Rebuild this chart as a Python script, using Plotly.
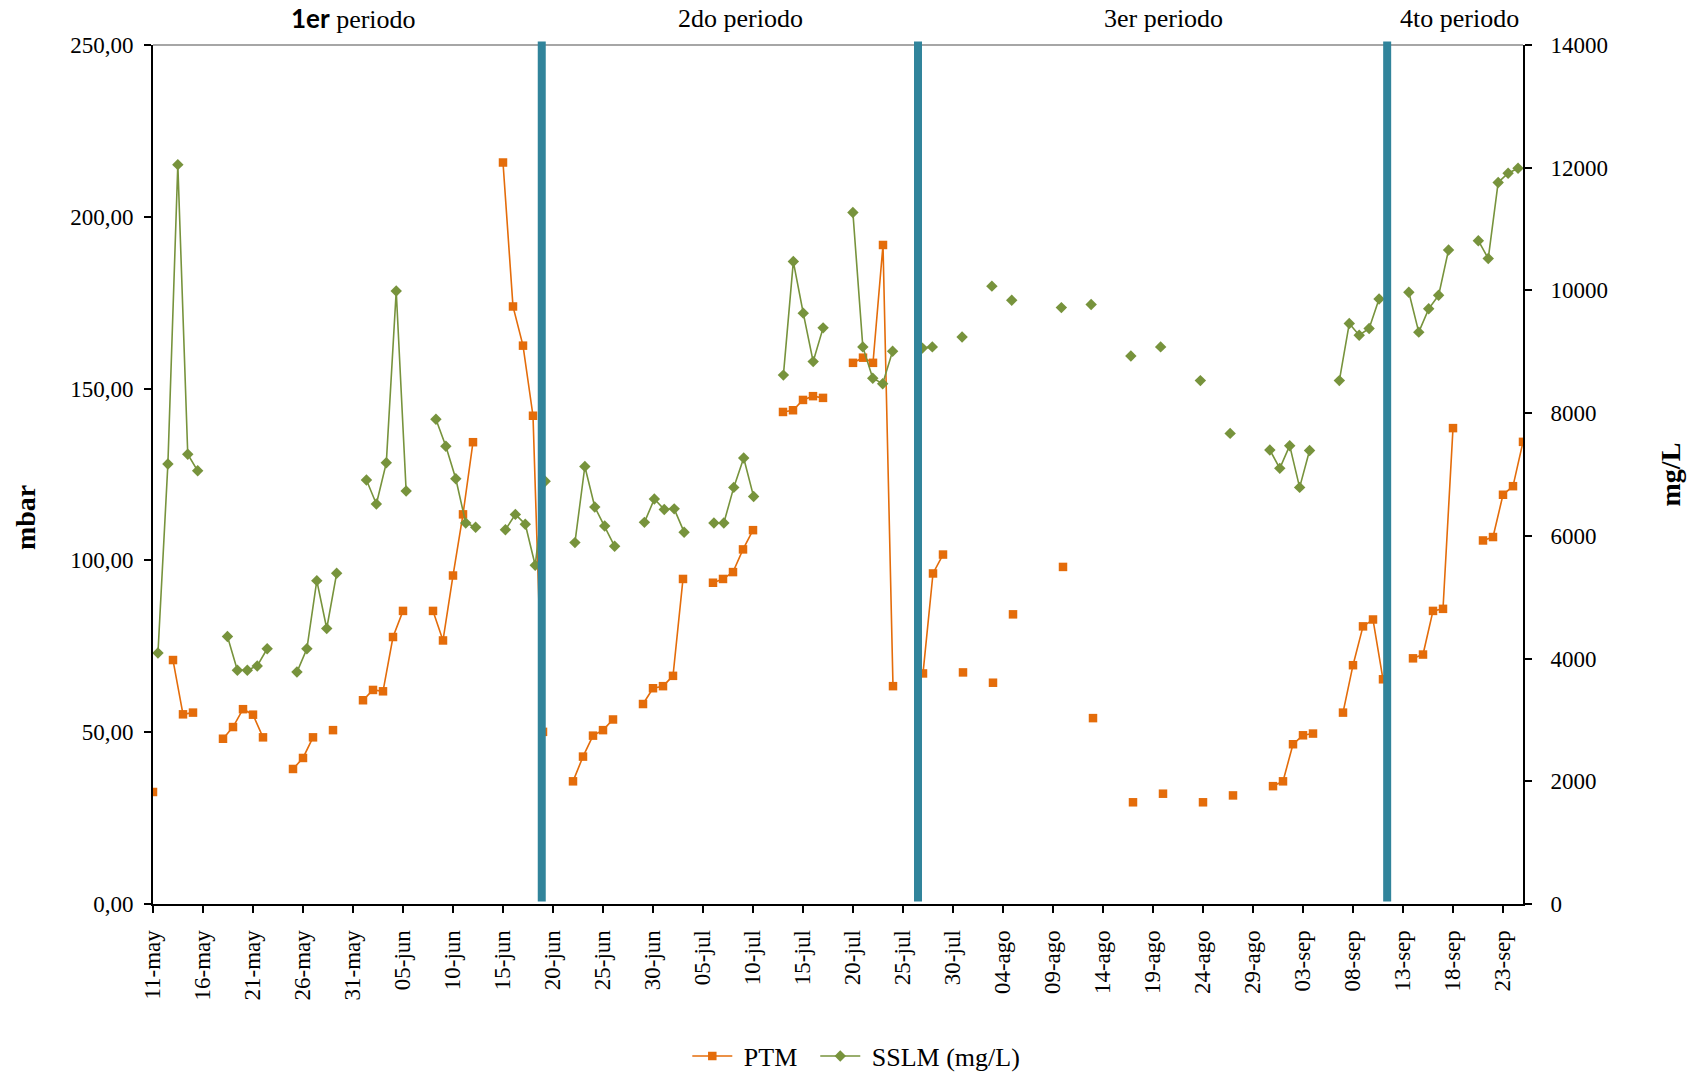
import pandas as pd
import plotly.graph_objects as go

YEAR = 2013
START, END = "05-11", "09-25"

# PTM (mbar), daily, left axis
ptm_dates = ["05-11", "05-13", "05-14", "05-15", "05-18", "05-19", "05-20", "05-21", "05-22",
             "05-25", "05-26", "05-27", "05-29", "06-01", "06-02", "06-03", "06-04", "06-05",
             "06-08", "06-09", "06-10", "06-11", "06-12", "06-15", "06-16", "06-17", "06-18",
             "06-19", "06-22", "06-23", "06-24", "06-25", "06-26", "06-29", "06-30", "07-01",
             "07-02", "07-03", "07-06", "07-07", "07-08", "07-09", "07-10", "07-13", "07-14",
             "07-15", "07-16", "07-17", "07-20", "07-21", "07-22", "07-23", "07-24", "07-27",
             "07-28", "07-29", "07-31", "08-03", "08-05", "08-10", "08-13", "08-17", "08-20",
             "08-24", "08-27", "08-31", "09-01", "09-02", "09-03", "09-04", "09-07", "09-08",
             "09-09", "09-10", "09-11", "09-14", "09-15", "09-16", "09-17", "09-18", "09-21",
             "09-22", "09-23", "09-24", "09-25"]
ptm_values = [32.6, 71.0, 55.2, 55.7, 48.1, 51.5, 56.7, 55.1, 48.5,
              39.3, 42.5, 48.5, 50.6, 59.3, 62.3, 61.9, 77.7, 85.3,
              85.3, 76.7, 95.6, 113.4, 134.4, 215.8, 173.9, 162.5, 142.1,
              50.1, 35.7, 42.9, 49.0, 50.6, 53.7, 58.2, 62.8, 63.4,
              66.4, 94.6, 93.5, 94.6, 96.6, 103.2, 108.8, 143.2, 143.7,
              146.7, 147.8, 147.3, 157.5, 159.0, 157.5, 191.8, 63.4, 67.1,
              96.2, 101.7, 67.4, 64.4, 84.3, 98.1, 54.1, 29.6, 32.1,
              29.6, 31.6, 34.3, 35.7, 46.5, 49.1, 49.6, 55.7, 69.5,
              80.8, 82.8, 65.4, 71.5, 72.6, 85.3, 85.9, 138.5, 105.8,
              106.8, 119.1, 121.6, 134.5]

# SSLM (mg/L), daily, right axis
sslm_dates = ["05-11", "05-12", "05-13", "05-14", "05-15", "05-18", "05-19", "05-20", "05-21",
              "05-22", "05-25", "05-26", "05-27", "05-28", "05-29", "06-01", "06-02", "06-03",
              "06-04", "06-05", "06-08", "06-09", "06-10", "06-11", "06-12", "06-15", "06-16",
              "06-17", "06-18", "06-19", "06-22", "06-23", "06-24", "06-25", "06-26", "06-29",
              "06-30", "07-01", "07-02", "07-03", "07-06", "07-07", "07-08", "07-09", "07-10",
              "07-13", "07-14", "07-15", "07-16", "07-17", "07-20", "07-21", "07-22", "07-23",
              "07-24", "07-27", "07-28", "07-31", "08-03", "08-05", "08-10", "08-13", "08-17",
              "08-20", "08-24", "08-27", "08-31", "09-01", "09-02", "09-03", "09-04", "09-07",
              "09-08", "09-09", "09-10", "09-11", "09-14", "09-15", "09-16", "09-17", "09-18",
              "09-21", "09-22", "09-23", "09-24", "09-25"]
sslm_values = [4090, 7170, 12050, 7330, 7060, 4360, 3810, 3810, 3880,
               4160, 3780, 4160, 5270, 4490, 5390, 6910, 6520, 7190,
               9990, 6730, 7900, 7460, 6930, 6210, 6140, 6100, 6350,
               6190, 5520, 6890, 5890, 7130, 6470, 6160, 5830, 6220,
               6600, 6430, 6440, 6060, 6210, 6210, 6790, 7270, 6640,
               8620, 10470, 9630, 8840, 9390, 11270, 9080, 8570, 8480,
               9010, 9060, 9080, 9240, 10070, 9840, 9720, 9770, 8930,
               9080, 8530, 7670, 7400, 7100, 7470, 6790, 7390, 8530,
               9460, 9270, 9380, 9860, 9970, 9320, 9700, 9920, 10660,
               10810, 10520, 11760, 11910, 11990]

x_tick_dates = ["05-11", "05-16", "05-21", "05-26", "05-31", "06-05", "06-10", "06-15", "06-20",
                "06-25", "06-30", "07-05", "07-10", "07-15", "07-20", "07-25", "07-30", "08-04",
                "08-09", "08-14", "08-19", "08-24", "08-29", "09-03", "09-08", "09-13", "09-18",
                "09-23"]
x_tick_labels = ["11-may", "16-may", "21-may", "26-may", "31-may", "05-jun", "10-jun", "15-jun",
                 "20-jun", "25-jun", "30-jun", "05-jul", "10-jul", "15-jul", "20-jul", "25-jul",
                 "30-jul", "04-ago", "09-ago", "14-ago", "19-ago", "24-ago", "29-ago", "03-sep",
                 "08-sep", "13-sep", "18-sep", "23-sep"]
left_ticks = [0, 50, 100, 150, 200, 250]
left_tick_labels = ["0,00", "50,00", "100,00", "150,00", "200,00", "250,00"]
right_ticks = [0, 2000, 4000, 6000, 8000, 10000, 12000, 14000]
right_tick_labels = ["0", "2000", "4000", "6000", "8000", "10000", "12000", "14000"]

period_breaks = ["06-18 21:00", "07-26 12:00", "09-11 10:00"]
period_names = ["<span style='font-family:Lato'><b>1er</b></span> periodo",
                "2do periodo", "3er periodo", "4to periodo"]
period_label_dates = ["05-31 00:00", "07-08 17:00", "08-20 00:00", "09-18 16:00"]

ORANGE = "#E46C0A"
GREEN = "#77933C"
BLUE = "#31849B"
FONT = "Liberation Serif"
NB = "\u00a0"


def d(s):
    return pd.Timestamp(f"{YEAR}-{s}")


days = pd.date_range(d(START), d(END), freq="D")
ptm = pd.Series(ptm_values, index=[d(s) for s in ptm_dates]).reindex(days)
sslm = pd.Series(sslm_values, index=[d(s) for s in sslm_dates]).reindex(days)
cats = [t.strftime("%Y-%m-%d") for t in days]

fig = go.Figure()
fig.add_trace(go.Scatter(
    x=days, y=ptm.values, name=NB + "PTM" + NB * 2, mode="lines+markers",
    line=dict(color=ORANGE, width=1.6),
    marker=dict(symbol="square", size=8.5, color=ORANGE),
    xaxis="x", yaxis="y"))
fig.add_trace(go.Scatter(
    x=cats, y=sslm.values, name=NB + "SSLM (mg/L)", mode="lines+markers",
    line=dict(color=GREEN, width=1.6),
    marker=dict(symbol="diamond", size=8.8, color=GREEN),
    xaxis="x2", yaxis="y2"))

for b in period_breaks:
    fig.add_shape(type="line", xref="x", yref="paper", x0=d(b), x1=d(b), y0=0.003, y1=1.004,
                  line=dict(color=BLUE, width=8), layer="above")

fig.add_shape(type="line", xref="paper", yref="paper", x0=0, x1=1, y0=1, y1=1,
              line=dict(color="#A6A6A6", width=2), layer="below")

for name, px in zip(period_names, period_label_dates):
    fig.add_annotation(x=d(px), xref="x", y=1.031, yref="paper", text=name, showarrow=False,
                       font=dict(family=FONT, size=26, color="black"),
                       xanchor="center", yanchor="middle")

fig.add_annotation(x=-0.093, y=0.45, xref="paper", yref="paper", text="<b>mbar</b>",
                   textangle=-90, showarrow=False, xanchor="center", yanchor="middle",
                   font=dict(family=FONT, size=28, color="black"))
fig.add_annotation(x=1.108, y=0.50, xref="paper", yref="paper", text="<b>mg/L</b>",
                   textangle=-90, showarrow=False, xanchor="center", yanchor="middle",
                   font=dict(family=FONT, size=28, color="black"))

fig.update_layout(
    width=1695, height=1100, autosize=False,
    margin=dict(l=153, r=172, t=45, b=196),
    paper_bgcolor="white", plot_bgcolor="white",
    font=dict(family=FONT, size=23, color="black"),
    hovermode=False,
    showlegend=True,
    legend=dict(orientation="h", x=0.39, y=-0.177, xanchor="left", yanchor="middle",
                font=dict(family=FONT, size=26, color="black"), itemwidth=40,
                bgcolor="rgba(0,0,0,0)"),
    xaxis=dict(type="date", range=[d(START), d(END)],
               tickvals=[d(s) for s in x_tick_dates], ticktext=x_tick_labels,
               tickangle=-90, ticks="outside", ticklen=7, tickwidth=2, tickcolor="black",
               showline=True, linecolor="black", linewidth=2, showgrid=False, zeroline=False,
               ticklabelstandoff=8, tickfont=dict(family=FONT, size=23, color="black")),
    xaxis2=dict(type="category", overlaying="x", visible=False, range=[-0.5, len(cats) - 0.5],
                categoryorder="array", categoryarray=cats, showgrid=False),
    yaxis=dict(range=[0, 250], tickvals=left_ticks, ticktext=left_tick_labels,
               ticks="outside", ticklen=7, tickwidth=2, tickcolor="black",
               showline=True, linecolor="black", linewidth=2, showgrid=False, zeroline=False,
               ticklabelstandoff=6, tickfont=dict(family=FONT, size=23, color="black")),
    yaxis2=dict(range=[0, 14000], tickvals=right_ticks, ticktext=right_tick_labels,
                overlaying="y", side="right", anchor="x",
                ticks="outside", ticklen=7, tickwidth=2, tickcolor="black",
                showline=True, linecolor="black", linewidth=2, showgrid=False, zeroline=False,
                ticklabelstandoff=14, tickfont=dict(family=FONT, size=23, color="black")),
)

fig.write_html("out.html", config={"displayModeBar": False},
               post_script="document.body.style.margin='0px';")
